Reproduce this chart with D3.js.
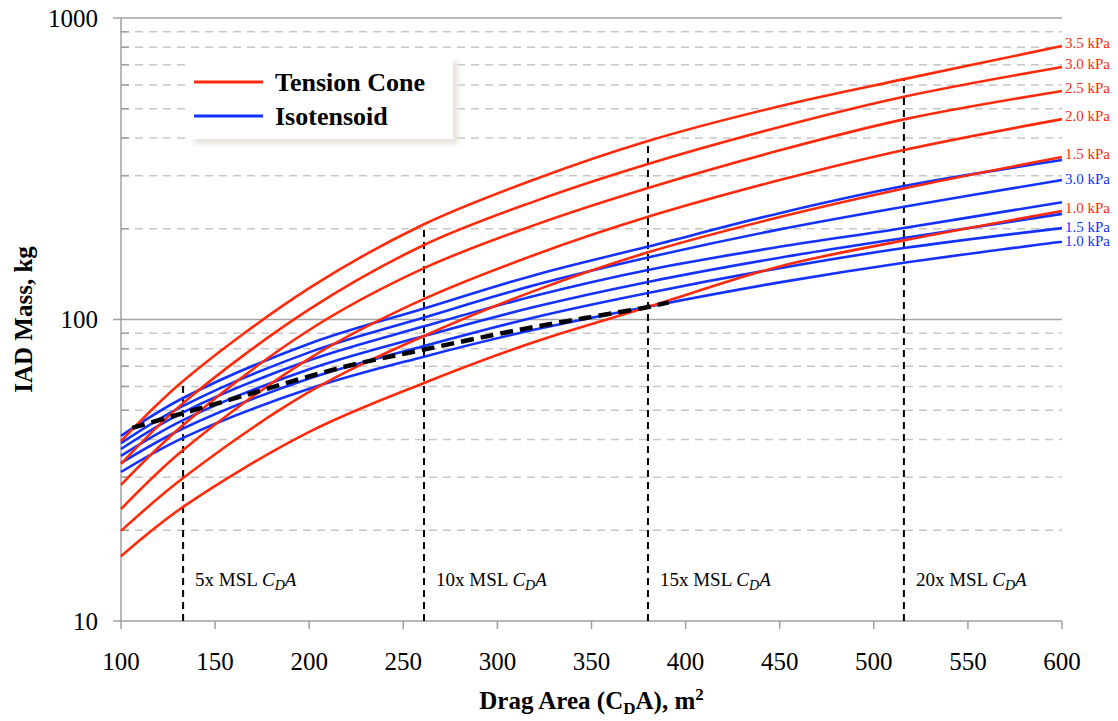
<!DOCTYPE html>
<html>
<head>
<meta charset="utf-8">
<script src="https://cdn.jsdelivr.net/npm/d3@7"></script>
<style>
  body { margin: 0; background: #fff; }
  svg { display: block; font-family: "Liberation Serif", "Times New Roman", serif; }
</style>
</head>
<body>
<div id="chart"></div>
<script>
// DATA
const dragAreas = [100, 133, 200, 261, 320, 380, 450, 516, 600];

const coneLabels = ["3.5 kPa", "3.0 kPa", "2.5 kPa", "2.0 kPa", "1.5 kPa", "1.0 kPa"];
const cone35 = [39.5, 62.5, 127, 207, 292, 391, 510, 627, 807];
const cone30 = [33.2, 52.8, 108, 176.6, 247, 328, 435, 548, 688];
const cone25 = [28.3, 44.7, 92.3, 148, 206, 273, 364, 461, 573];
const cone20 = [23.5, 36.9, 74.2, 117, 164, 219, 290, 365, 462];
const cone15 = [19.9, 29.8, 57.5, 88.2, 124.7, 167, 218.6, 272, 346];
const cone10 = [16.4, 23.9, 42.4, 61.6, 84.4, 110, 150, 183, 229];

const isoLabels = ["", "3.0 kPa", "", "", "1.5 kPa", "1.0 kPa"];
const iso1 = [41.1, 54.9, 83.1, 108.8, 140.6, 174.6, 225.3, 277, 338];
const iso2 = [38.9, 51.7, 77.8, 101.5, 130.2, 160.6, 199, 236.6, 290];
const iso3 = [37.2, 49.2, 73.2, 94.9, 119.9, 146, 174.3, 201.2, 245];
const iso4 = [35.3, 46.4, 68.4, 88.1, 110.2, 133.2, 160.3, 186.3, 224];
const iso5 = [33.4, 43.5, 63.7, 81.7, 101.8, 122.5, 148, 172.6, 201];
const iso6 = [31.2, 40.5, 58.9, 75.3, 92.6, 110.3, 132.8, 154.3, 181];

// dashed black curve
const envArea = [106, 126, 157, 178, 199, 222, 261, 310, 346, 380, 391];
const envMass = [43.7, 47.5, 54, 59, 64.5, 70.5, 79.5, 92, 101, 110, 114];

// MSL drag area multiples
const mslNames = ["5x", "10x", "15x", "20x"];
const mslArea = [133, 261, 380, 516];
const mslTop = [62.5, 207, 391, 627];

const xTicks = [100, 150, 200, 250, 300, 350, 400, 450, 500, 550, 600];
const yMajor = [10, 100, 1000];

// CONFIG
const W = 1118, H = 721;
const RED = "#ff2a0a", BLUE = "#1432ff";

const x = d3.scaleLinear().domain([100, 600]).range([121, 1062]);
const y = d3.scaleLog().domain([10, 1000]).range([621, 18]);

const svg = d3.select("#chart").append("svg")
    .attr("width", W)
    .attr("height", H);

// minor grid (dashed)
const minor = [];
[10, 100].forEach(dec => d3.range(2, 10).forEach(k => minor.push(dec * k)));

svg.append("g").selectAll("line").data(minor).join("line")
    .attr("x1", x(100)).attr("x2", x(600))
    .attr("y1", d => y(d)).attr("y2", d => y(d))
    .attr("stroke", "#c6c6c6").attr("stroke-width", 1.5)
    .attr("stroke-dasharray", "8,6");

// major grid
svg.append("g").selectAll("line").data([100, 1000]).join("line")
    .attr("x1", x(100) - 8).attr("x2", x(600))
    .attr("y1", d => y(d)).attr("y2", d => y(d))
    .attr("stroke", "#a5a5a5").attr("stroke-width", 1.5);

// Y axis
const yAxis = svg.append("g");
yAxis.append("line")
    .attr("x1", x(100)).attr("x2", x(100))
    .attr("y1", y(1000)).attr("y2", y(10))
    .attr("stroke", "#a0a0a0").attr("stroke-width", 1.5);
yAxis.selectAll("line.minor").data(minor).join("line")
    .attr("class", "minor")
    .attr("x1", x(100)).attr("x2", x(100) + 8)
    .attr("y1", d => y(d)).attr("y2", d => y(d))
    .attr("stroke", "#a0a0a0").attr("stroke-width", 1.5);
yAxis.selectAll("text").data(yMajor).join("text")
    .attr("x", 98).attr("y", d => y(d))
    .attr("dy", "0.35em")
    .attr("text-anchor", "end")
    .style("font-size", "25px")
    .text(d => d);

// X axis
const xAxis = svg.append("g");
xAxis.append("line")
    .attr("x1", x(100) - 8).attr("x2", x(600))
    .attr("y1", y(10)).attr("y2", y(10))
    .attr("stroke", "#a0a0a0").attr("stroke-width", 1.5);
xAxis.selectAll("line.tick").data(xTicks).join("line")
    .attr("class", "tick")
    .attr("x1", d => x(d)).attr("x2", d => x(d))
    .attr("y1", y(10)).attr("y2", y(10) + 8)
    .attr("stroke", "#a0a0a0").attr("stroke-width", 1.5);
xAxis.selectAll("text").data(xTicks).join("text")
    .attr("x", d => x(d)).attr("y", 670)
    .attr("text-anchor", "middle")
    .style("font-size", "25px")
    .text(d => d);

// axis titles
const xt = svg.append("text")
    .attr("x", x(350)).attr("y", 709)
    .attr("text-anchor", "middle")
    .style("font-size", "25px").style("font-weight", "bold");
xt.append("tspan").text("Drag Area (C");
xt.append("tspan").attr("dy", 5).style("font-size", "17px").text("D");
xt.append("tspan").attr("dy", -5).text("A), m");
xt.append("tspan").attr("dy", -9).style("font-size", "17px").text("2");

svg.append("text")
    .attr("transform", `translate(32, ${y(100)}) rotate(-90)`)
    .attr("text-anchor", "middle")
    .style("font-size", "25px").style("font-weight", "bold")
    .text("IAD Mass, kg");

// MSL marker lines
const msl = svg.append("g");
msl.selectAll("line").data(mslArea).join("line")
    .attr("x1", d => x(d)).attr("x2", d => x(d))
    .attr("y1", y(10)).attr("y2", (d, i) => y(mslTop[i]))
    .attr("stroke", "#000").attr("stroke-width", 2)
    .attr("stroke-dasharray", "7,5");

mslArea.forEach((a, i) => {
    const t = msl.append("text")
        .attr("x", x(a) + 12).attr("y", 586)
        .style("font-size", "19px");
    t.append("tspan").text(mslNames[i] + " MSL ");
    t.append("tspan").style("font-style", "italic").text("C");
    t.append("tspan").style("font-style", "italic").style("font-size", "14px").attr("dy", 4).text("D");
    t.append("tspan").style("font-style", "italic").attr("dy", -4).text("A");
});

// curves
const line = d3.line()
    .x((d, i) => x(dragAreas[i]))
    .y(d => y(d))
    .curve(d3.curveCatmullRom.alpha(0.5));

const cones = [cone35, cone30, cone25, cone20, cone15, cone10];
const isos = [iso1, iso2, iso3, iso4, iso5, iso6];

const curves = svg.append("g").attr("fill", "none").attr("stroke-width", 2.6);

curves.selectAll("path.iso").data(isos).join("path")
    .attr("class", "iso")
    .attr("d", line)
    .attr("stroke", BLUE);

curves.selectAll("path.cone").data(cones).join("path")
    .attr("class", "cone")
    .attr("d", line)
    .attr("stroke", RED);

// envelope dashed line
const envLine = d3.line()
    .x((d, i) => x(envArea[i]))
    .y(d => y(d))
    .curve(d3.curveCatmullRom.alpha(0.5));

svg.append("path")
    .attr("d", envLine(envMass))
    .attr("fill", "none")
    .attr("stroke", "#000")
    .attr("stroke-width", 4.5)
    .attr("stroke-dasharray", "13,7");

// end labels
const labels = svg.append("g").style("font-size", "15px");
cones.forEach((s, i) => {
    labels.append("text")
        .attr("x", x(600) + 3).attr("y", y(s[s.length - 1]) - 3)
        .attr("dy", "0.35em")
        .attr("fill", RED)
        .text(coneLabels[i]);
});
isos.forEach((s, i) => {
    if (!isoLabels[i]) return;
    labels.append("text")
        .attr("x", x(600) + 3).attr("y", y(s[s.length - 1]) - 1)
        .attr("dy", "0.35em")
        .attr("fill", BLUE)
        .text(isoLabels[i]);
});

// legend
const defs = svg.append("defs");
defs.append("filter").attr("id", "blur")
    .append("feGaussianBlur").attr("stdDeviation", 2.5);

const legend = svg.append("g").attr("transform", "translate(189,56)");
legend.append("rect")
    .attr("x", 5).attr("y", 5).attr("width", 264).attr("height", 83)
    .attr("fill", "#e8e4dc").attr("filter", "url(#blur)");
legend.append("rect")
    .attr("width", 264).attr("height", 83)
    .attr("fill", "#fff");

const legendItems = [["Tension Cone", RED], ["Isotensoid", BLUE]];
legendItems.forEach(([name, col], i) => {
    const g = legend.append("g").attr("transform", `translate(0, ${26 + i * 34})`);
    g.append("line")
        .attr("x1", 5).attr("x2", 74)
        .attr("stroke", col).attr("stroke-width", 3);
    g.append("text")
        .attr("x", 86).attr("dy", "0.35em")
        .style("font-size", "26px").style("font-weight", "bold")
        .text(name);
});
</script>
</body>
</html>
